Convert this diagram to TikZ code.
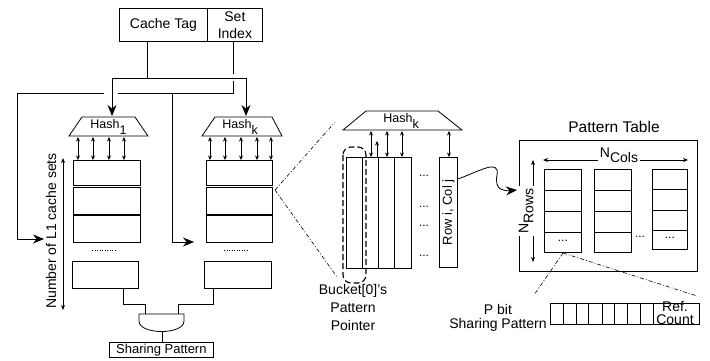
\documentclass[tikz,border=0pt]{standalone}
\usepackage{fontspec}
\setmainfont{Liberation Sans}
\usetikzlibrary{arrows.meta,calc}
\begin{document}
\begin{tikzpicture}[x=1pt,y=-1pt,line width=0.8pt,
  font=\fontsize{14}{16}\selectfont,
  box/.style={draw,inner sep=0pt,anchor=north west},
  big/.style={-{Stealth[length=11pt,width=9pt]}},
  dbl/.style={{Stealth[length=4.5pt,width=4pt]}-{Stealth[length=4.5pt,width=4pt]}},
  dd/.style={line width=0.6pt,dash pattern=on 4pt off 2pt on 1pt off 2pt},
  dots/.style={font=\fontsize{12}{12}\selectfont},
  hashlbl/.style={inner sep=1pt,anchor=base west,font=\fontsize{12.5}{14}\selectfont}]
\useasboundingbox (0,0) rectangle (710,360);

% ---------- address fields ----------
\node[box,minimum width=88pt,minimum height=33pt] (tag) at (119,8) {Cache Tag};
\node[box,minimum width=55pt,minimum height=33pt,align=center,
      font=\fontsize{14}{17}\selectfont] (idx) at (207,8) {Set\\Index};

\coordinate (tagout) at (147,41);
\coordinate (idxout) at (233,41);
\draw (tagout) -- (147,78);
\draw (112,78) -- (246,78);
\draw (idxout) -- (233,74);
\draw (233,81) -- (233,93) -- (118,93);
\draw (104,93) -- (17,93) -- (17,239);
\draw (172,93) -- (172,242);

% ---------- hash units ----------
\draw (69,136) -- (82,117) -- (135,117) -- (148,136) -- cycle;
\node[hashlbl] (h1) at (89,128) {Hash\raisebox{-6pt}{1}};
\draw (202,136) -- (215,117) -- (272,117) -- (282,136) -- cycle;
\node[hashlbl] (hk) at (221,128) {Hash\raisebox{-6pt}{k}};

\draw[big] (112,78) -- (112,116);
\draw[big] (246,78) -- (246,116);

\foreach \x in {78,93,109,124} \draw[dbl] (\x,137) -- (\x,160);
\foreach \x in {210,225,241,257,271} \draw[dbl] (\x,137) -- (\x,160);

% ---------- L1 set arrays ----------
\node[box,minimum width=67pt,minimum height=25pt] (a1) at (73,160) {};
\node[box,minimum width=67pt,minimum height=27pt] (a2) at (73,187) {};
\node[box,minimum width=67pt,minimum height=27pt] (a3) at (73,215) {};
\draw[line width=0.5pt,dotted] (92,250) -- (115,250);
\node[box,minimum width=66pt,minimum height=27pt] (a4) at (72,261) {};

\node[box,minimum width=66pt,minimum height=25pt] (b1) at (206,160) {};
\node[box,minimum width=66pt,minimum height=27pt] (b2) at (206,187) {};
\node[box,minimum width=66pt,minimum height=27pt] (b3) at (206,215) {};
\draw[line width=0.5pt,dotted] (224,250) -- (247,250);
\node[box,minimum width=67pt,minimum height=27pt] (b4) at (204,261) {};

\draw[big] (17,239) -- (44,239);
\draw[big] (172,242) -- (194,242);

% axis
\draw[{Stealth[length=5pt,width=4pt]}-{Stealth[length=5pt,width=4pt]}] (63,158) -- (63,310);
\node[rotate=90,inner sep=0pt] (axis) at (51,231) {Number of L1 cache sets};

% AND gate
\draw (123,288) -- (123,304) -- (145,304) -- (145,314);
\draw (213,288) -- (213,304) -- (178,304) -- (178,314);
\draw (139,314) -- (139,321) .. controls (139,335) and (184,335) .. (184,321) -- (184,314) -- cycle;
\node[box,minimum width=104pt,minimum height=15pt,font=\fontsize{13}{13}\selectfont] (sp) at (109,342) {Sharing Pattern};
\draw (162,332) -- (sp.north -| 162,0);

% ---------- zoom lines ----------
\coordinate (zap) at (275,190);
\draw[dd] (zap) -- (335,122);
\draw[dd] (zap) -- (337,277);

% ---------- zoomed hash ----------
\draw (343,130) -- (366,111) -- (438,111) -- (462,130) -- cycle;
\node[hashlbl] (hkz) at (382,122) {Hash\raisebox{-6pt}{k}};
\foreach \x in {371,387,402,449} \draw[dbl] (\x,131) -- (\x,157);
\draw[-{Stealth[length=4.5pt,width=4pt]}] (377,157) -- (377,141);

\node[box,minimum width=16pt,minimum height=111pt] (c1) at (346,157) {};
\node[box,minimum width=16pt,minimum height=111pt] (c2) at (362,157) {};
\node[box,minimum width=16pt,minimum height=111pt] (c3) at (378,157) {};
\node[box,minimum width=17pt,minimum height=111pt] (c4) at (394,157) {};
\foreach \y in {176,207,226,256} \node[dots] at (424,\y) {...};
\node[box,minimum width=18pt,minimum height=110pt] (rc) at (439,157) {};
\node[rotate=90,inner sep=0pt,font=\fontsize{13}{13}\selectfont] at (rc.center) {Row i, Col j};

\draw[dashed,dash pattern=on 6pt off 3pt,line width=1.1pt,rounded corners=8pt] (343,147) rectangle (366,283);
\node[align=center,font=\fontsize{14}{18}\selectfont,inner sep=0pt] (bk) at (353,307) {Bucket[0]'s\\Pattern\\Pointer};

% ---------- pattern table ----------
\node[font=\fontsize{15.5}{16}\selectfont] (pt) at (614,127) {Pattern Table};
\node[box,minimum width=178pt,minimum height=131pt] (tbl) at (519,140) {};

\draw[line width=0.7pt,{Stealth[length=5pt,width=4pt]}-{Stealth[length=5pt,width=4pt]}] (543,160) -- (688,160);
\node[fill=white,inner sep=2pt] (nc) at (619,155) {N\raisebox{-5pt}{Cols}};
\draw[line width=0.7pt,{Stealth[length=5pt,width=4pt]}-{Stealth[length=5pt,width=4pt]}] (533,160) -- (533,262);
\node[fill=white,rotate=90,inner sep=2pt] (nr) at (526,211) {N\raisebox{-5pt}{Rows}};

\draw[big] (rc.east |- 0,179) .. controls (478,172) and (500,158) .. (497,175)
   .. controls (494,191) and (505,191) .. (517,190);

% columns
\foreach \x/\n in {544/p,594/q} {
  \node[box,minimum width=37pt,minimum height=21pt] (\n1) at (\x,169) {};
  \node[box,minimum width=37pt,minimum height=21pt] (\n2) at (\x,190) {};
  \node[box,minimum width=37pt,minimum height=21pt] (\n3) at (\x,211) {};
  \node[box,minimum width=37pt,minimum height=20pt] (\n4) at (\x,232) {};
}
\node[box,minimum width=35pt,minimum height=20pt] (r1) at (652,169) {};
\node[box,minimum width=35pt,minimum height=21pt] (r2) at (652,189) {};
\node[box,minimum width=35pt,minimum height=20pt] (r3) at (652,210) {};
\node[box,minimum width=35pt,minimum height=19pt] (r4) at (652,230) {};
\node[dots] at ($(p4.center)+(0,-2)$) {...};
\node[dots] at ($(r4.center)+(0,-2)$) {...};
\node[dots] at (640,237) {...};

\coordinate (pap) at (563,253);
\draw[dd] (pap) -- (534,295);
\draw[dd] (pap) -- (697,296);

% ---------- pattern entry ----------
\node[box,minimum width=149pt,minimum height=21pt] (ent) at (550,303) {};
\foreach \x in {563,576,588,602,614,627,640,653} \draw (\x,303) -- (\x,324);
\node[align=center,font=\fontsize{14}{13}\selectfont,inner sep=0pt] (ref) at (675,313) {Ref.\\Count};
\node[align=center,font=\fontsize{14}{14}\selectfont,inner sep=0pt] (pb) at (498,318) {P bit\\Sharing Pattern};

\end{tikzpicture}
\end{document}
